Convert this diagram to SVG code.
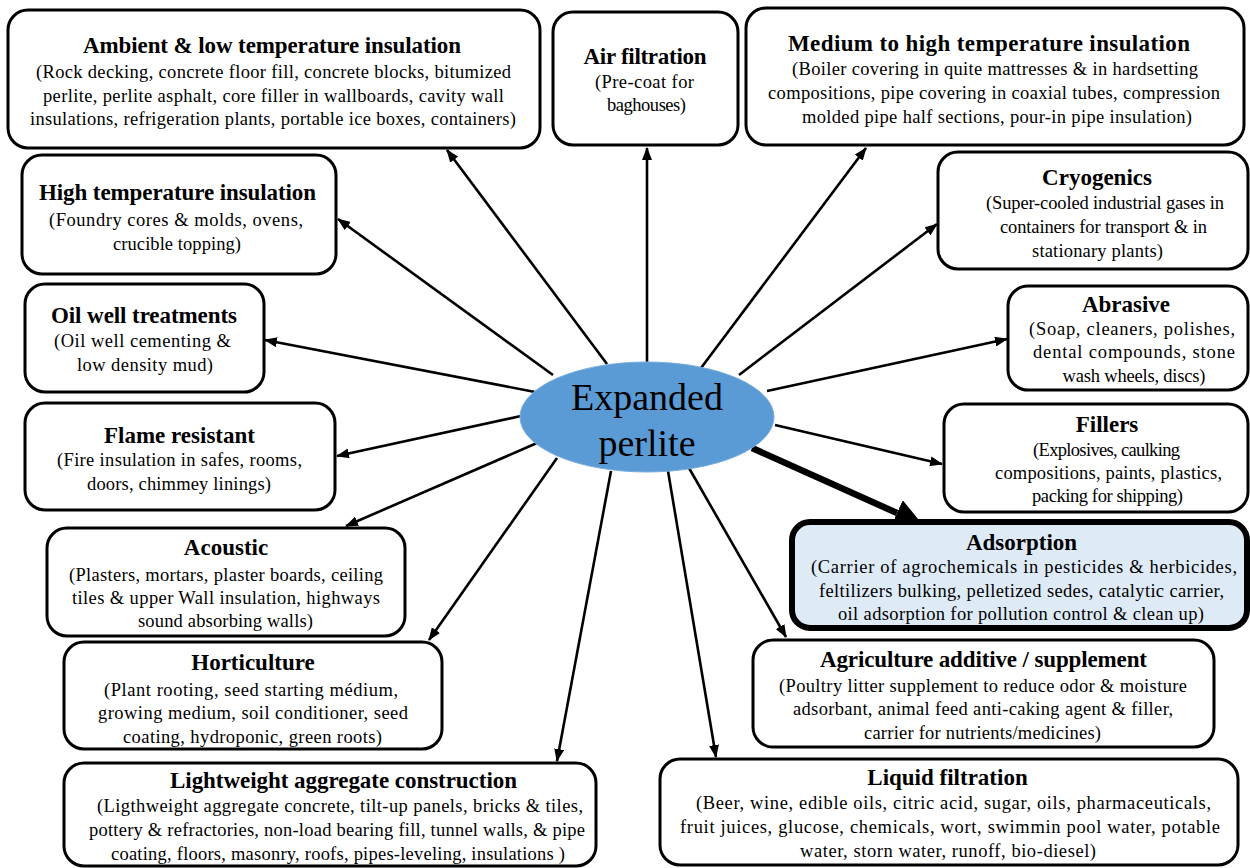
<svg xmlns="http://www.w3.org/2000/svg" width="1250" height="868" viewBox="0 0 1250 868">
<style>
.box{fill:#fff;stroke:#000;stroke-width:3}
.hl{fill:#deebf7;stroke:#000;stroke-width:6}
text{font-family:"Liberation Serif","Times New Roman",serif;fill:#000;text-anchor:middle}
.t{font-size:23px;font-weight:bold}
.b{font-size:18.5px}
.c{font-size:38px}
.cn{stroke:#000;stroke-width:2.6;fill:none}
.thick{stroke:#000;stroke-width:6.5;fill:none}
</style>
<defs>
<marker id="ah" markerUnits="userSpaceOnUse" markerWidth="13" markerHeight="10" refX="12" refY="5" orient="auto"><path d="M0,0 L13,5 L0,10 z" fill="#000"/></marker>
<marker id="big" markerUnits="userSpaceOnUse" markerWidth="28" markerHeight="28" refX="0" refY="14" orient="auto"><path d="M0,0 L28,14 L0,28 z" fill="#000"/></marker>
</defs>
<rect width="1250" height="868" fill="#fff"/>
<g id="connectors">
<line class="cn" x1="607" y1="364" x2="447" y2="150" marker-end="url(#ah)"/>
<line class="cn" x1="647" y1="362" x2="647" y2="148" marker-end="url(#ah)"/>
<line class="cn" x1="701" y1="368" x2="866" y2="148" marker-end="url(#ah)"/>
<line class="cn" x1="739" y1="375" x2="937" y2="224" marker-end="url(#ah)"/>
<line class="cn" x1="767" y1="391" x2="1007" y2="339" marker-end="url(#ah)"/>
<line class="cn" x1="775" y1="425" x2="942" y2="464" marker-end="url(#ah)"/>
<line class="thick" x1="752" y1="448" x2="897" y2="513" marker-end="url(#big)"/>
<line class="cn" x1="689" y1="468" x2="786" y2="637" marker-end="url(#ah)"/>
<line class="cn" x1="668" y1="471" x2="716" y2="757" marker-end="url(#ah)"/>
<line class="cn" x1="611" y1="471" x2="557" y2="761" marker-end="url(#ah)"/>
<line class="cn" x1="557" y1="458" x2="429" y2="640" marker-end="url(#ah)"/>
<line class="cn" x1="537" y1="443" x2="346" y2="526" marker-end="url(#ah)"/>
<line class="cn" x1="521" y1="416" x2="337" y2="456" marker-end="url(#ah)"/>
<line class="cn" x1="535" y1="392" x2="265" y2="340" marker-end="url(#ah)"/>
<line class="cn" x1="553" y1="375" x2="338" y2="219" marker-end="url(#ah)"/>
</g>
<g id="center">
<ellipse cx="647" cy="417" rx="127" ry="55" fill="#5b9bd5" stroke="#7aaee0" stroke-width="1"/>
<text class="c" x="647" y="410">Expanded</text>
<text class="c" x="647" y="456">perlite</text>
</g>
<g id="ambient">
<rect class="box" x="8" y="10" width="532" height="138" rx="20"/>
<text class="t" x="272" y="53" textLength="378" lengthAdjust="spacing">Ambient &amp; low temperature insulation</text>
<text class="b" x="273.5" y="78" textLength="475" lengthAdjust="spacing">(Rock decking, concrete floor fill, concrete blocks, bitumized</text>
<text class="b" x="273.5" y="102" textLength="461" lengthAdjust="spacing">perlite, perlite asphalt, core filler in wallboards, cavity wall</text>
<text class="b" x="273" y="125" textLength="486" lengthAdjust="spacing">insulations, refrigeration plants, portable ice boxes, containers)</text>
</g>
<g id="air">
<rect class="box" x="553" y="12" width="185" height="133" rx="20"/>
<text class="t" x="645" y="64" textLength="123" lengthAdjust="spacing">Air filtration</text>
<text class="b" x="644.5" y="88" textLength="99" lengthAdjust="spacing">(Pre-coat for</text>
<text class="b" x="646.5" y="111" textLength="79" lengthAdjust="spacing">baghouses)</text>
</g>
<g id="medium">
<rect class="box" x="746" y="8" width="498" height="137" rx="20"/>
<text class="t" x="989" y="51" textLength="402" lengthAdjust="spacing">Medium to high temperature insulation</text>
<text class="b" x="995" y="75" textLength="406" lengthAdjust="spacing">(Boiler covering in quite mattresses &amp; in hardsetting</text>
<text class="b" x="994" y="99" textLength="452" lengthAdjust="spacing">compositions, pipe covering in coaxial tubes, compression</text>
<text class="b" x="997" y="123" textLength="390" lengthAdjust="spacing">molded pipe half sections, pour-in pipe insulation)</text>
</g>
<g id="high">
<rect class="box" x="22" y="155" width="314" height="119" rx="20"/>
<text class="t" x="177.5" y="200" textLength="277" lengthAdjust="spacing">High temperature insulation</text>
<text class="b" x="176" y="226" textLength="254" lengthAdjust="spacing">(Foundry cores &amp; molds, ovens,</text>
<text class="b" x="177" y="250" textLength="128" lengthAdjust="spacing">crucible topping)</text>
</g>
<g id="cryogenics">
<rect class="box" x="938" y="152" width="310" height="117" rx="20"/>
<text class="t" x="1097" y="185">Cryogenics</text>
<text class="b" x="1105" y="209" textLength="238" lengthAdjust="spacing">(Super-cooled industrial gases in</text>
<text class="b" x="1103.5" y="233" textLength="207" lengthAdjust="spacing">containers for transport &amp; in</text>
<text class="b" x="1097.5" y="257" textLength="131" lengthAdjust="spacing">stationary plants)</text>
</g>
<g id="oil">
<rect class="box" x="25" y="284" width="239" height="108" rx="20"/>
<text class="t" x="144" y="323" textLength="186" lengthAdjust="spacing">Oil well treatments</text>
<text class="b" x="142.5" y="347" textLength="177" lengthAdjust="spacing">(Oil well cementing &amp;</text>
<text class="b" x="145" y="371" textLength="136" lengthAdjust="spacing">low density mud)</text>
</g>
<g id="abrasive">
<rect class="box" x="1008" y="286" width="240" height="104" rx="20"/>
<text class="t" x="1126" y="312">Abrasive</text>
<text class="b" x="1132" y="335" textLength="206" lengthAdjust="spacing">(Soap, cleaners, polishes,</text>
<text class="b" x="1134" y="358" textLength="202" lengthAdjust="spacing">dental compounds, stone</text>
<text class="b" x="1134" y="382" textLength="143" lengthAdjust="spacing">wash wheels, discs)</text>
</g>
<g id="flame">
<rect class="box" x="25" y="403" width="310" height="107" rx="20"/>
<text class="t" x="179.5" y="443" textLength="151" lengthAdjust="spacing">Flame resistant</text>
<text class="b" x="179.5" y="466" textLength="245" lengthAdjust="spacing">(Fire insulation in safes, rooms,</text>
<text class="b" x="179" y="490" textLength="184" lengthAdjust="spacing">doors, chimmey linings)</text>
</g>
<g id="fillers">
<rect class="box" x="944" y="404" width="304" height="108" rx="20"/>
<text class="t" x="1107" y="432">Fillers</text>
<text class="b" x="1106.5" y="456" textLength="147" lengthAdjust="spacing">(Explosives, caulking</text>
<text class="b" x="1108.5" y="479" textLength="227" lengthAdjust="spacing">compositions, paints, plastics,</text>
<text class="b" x="1107.5" y="502" textLength="151" lengthAdjust="spacing">packing for shipping)</text>
</g>
<g id="acoustic">
<rect class="box" x="47" y="528" width="358" height="108" rx="20"/>
<text class="t" x="226" y="555">Acoustic</text>
<text class="b" x="226" y="581" textLength="314" lengthAdjust="spacing">(Plasters, mortars, plaster boards, ceiling</text>
<text class="b" x="226" y="604" textLength="308" lengthAdjust="spacing">tiles &amp; upper Wall insulation, highways</text>
<text class="b" x="225.5" y="627" textLength="175" lengthAdjust="spacing">sound absorbing walls)</text>
</g>
<g id="adsorption">
<rect class="hl" x="792" y="522" width="455" height="106" rx="18"/>
<text class="t" x="1021.5" y="550">Adsorption</text>
<text class="b" x="1024" y="573" textLength="426" lengthAdjust="spacing">(Carrier of agrochemicals in pesticides &amp; herbicides,</text>
<text class="b" x="1021.5" y="597" textLength="405" lengthAdjust="spacing">feltilizers bulking, pelletized sedes, catalytic carrier,</text>
<text class="b" x="1021" y="620" textLength="366" lengthAdjust="spacing">oil adsorption for pollution control &amp; clean up)</text>
</g>
<g id="horticulture">
<rect class="box" x="64" y="642" width="378" height="107" rx="20"/>
<text class="t" x="253" y="670">Horticulture</text>
<text class="b" x="251" y="696" textLength="294" lengthAdjust="spacing">(Plant rooting, seed starting médium,</text>
<text class="b" x="253" y="719" textLength="310" lengthAdjust="spacing">growing medium, soil conditioner, seed</text>
<text class="b" x="252.5" y="743" textLength="259" lengthAdjust="spacing">coating, hydroponic, green roots)</text>
</g>
<g id="agriculture">
<rect class="box" x="753" y="640" width="461" height="107" rx="20"/>
<text class="t" x="983.5" y="667" textLength="327" lengthAdjust="spacing">Agriculture additive / supplement</text>
<text class="b" x="983" y="692" textLength="408" lengthAdjust="spacing">(Poultry litter supplement to reduce odor &amp; moisture</text>
<text class="b" x="983" y="715" textLength="380" lengthAdjust="spacing">adsorbant, animal feed anti-caking agent &amp; filler,</text>
<text class="b" x="982.5" y="739" textLength="237" lengthAdjust="spacing">carrier for nutrients/medicines)</text>
</g>
<g id="lightweight">
<rect class="box" x="64" y="763" width="532" height="103" rx="20"/>
<text class="t" x="343.5" y="788" textLength="347" lengthAdjust="spacing">Lightweight aggregate construction</text>
<text class="b" x="340" y="812" textLength="486" lengthAdjust="spacing">(Ligthweight aggregate concrete, tilt-up panels, bricks &amp; tiles,</text>
<text class="b" x="337" y="836" textLength="496" lengthAdjust="spacing">pottery &amp; refractories, non-load bearing fill, tunnel walls, &amp; pipe</text>
<text class="b" x="338" y="860" textLength="454" lengthAdjust="spacing">coating, floors, masonry, roofs, pipes-leveling, insulations )</text>
</g>
<g id="liquid">
<rect class="box" x="660" y="759" width="578" height="106" rx="20"/>
<text class="t" x="947.5" y="785">Liquid filtration</text>
<text class="b" x="953.5" y="809" textLength="515" lengthAdjust="spacing">(Beer, wine, edible oils, citric acid, sugar, oils, pharmaceuticals,</text>
<text class="b" x="950" y="833" textLength="540" lengthAdjust="spacing">fruit juices, glucose, chemicals, wort, swimmin pool water, potable</text>
<text class="b" x="948" y="857" textLength="296" lengthAdjust="spacing">water, storn water, runoff, bio-diesel)</text>
</g>
</svg>
